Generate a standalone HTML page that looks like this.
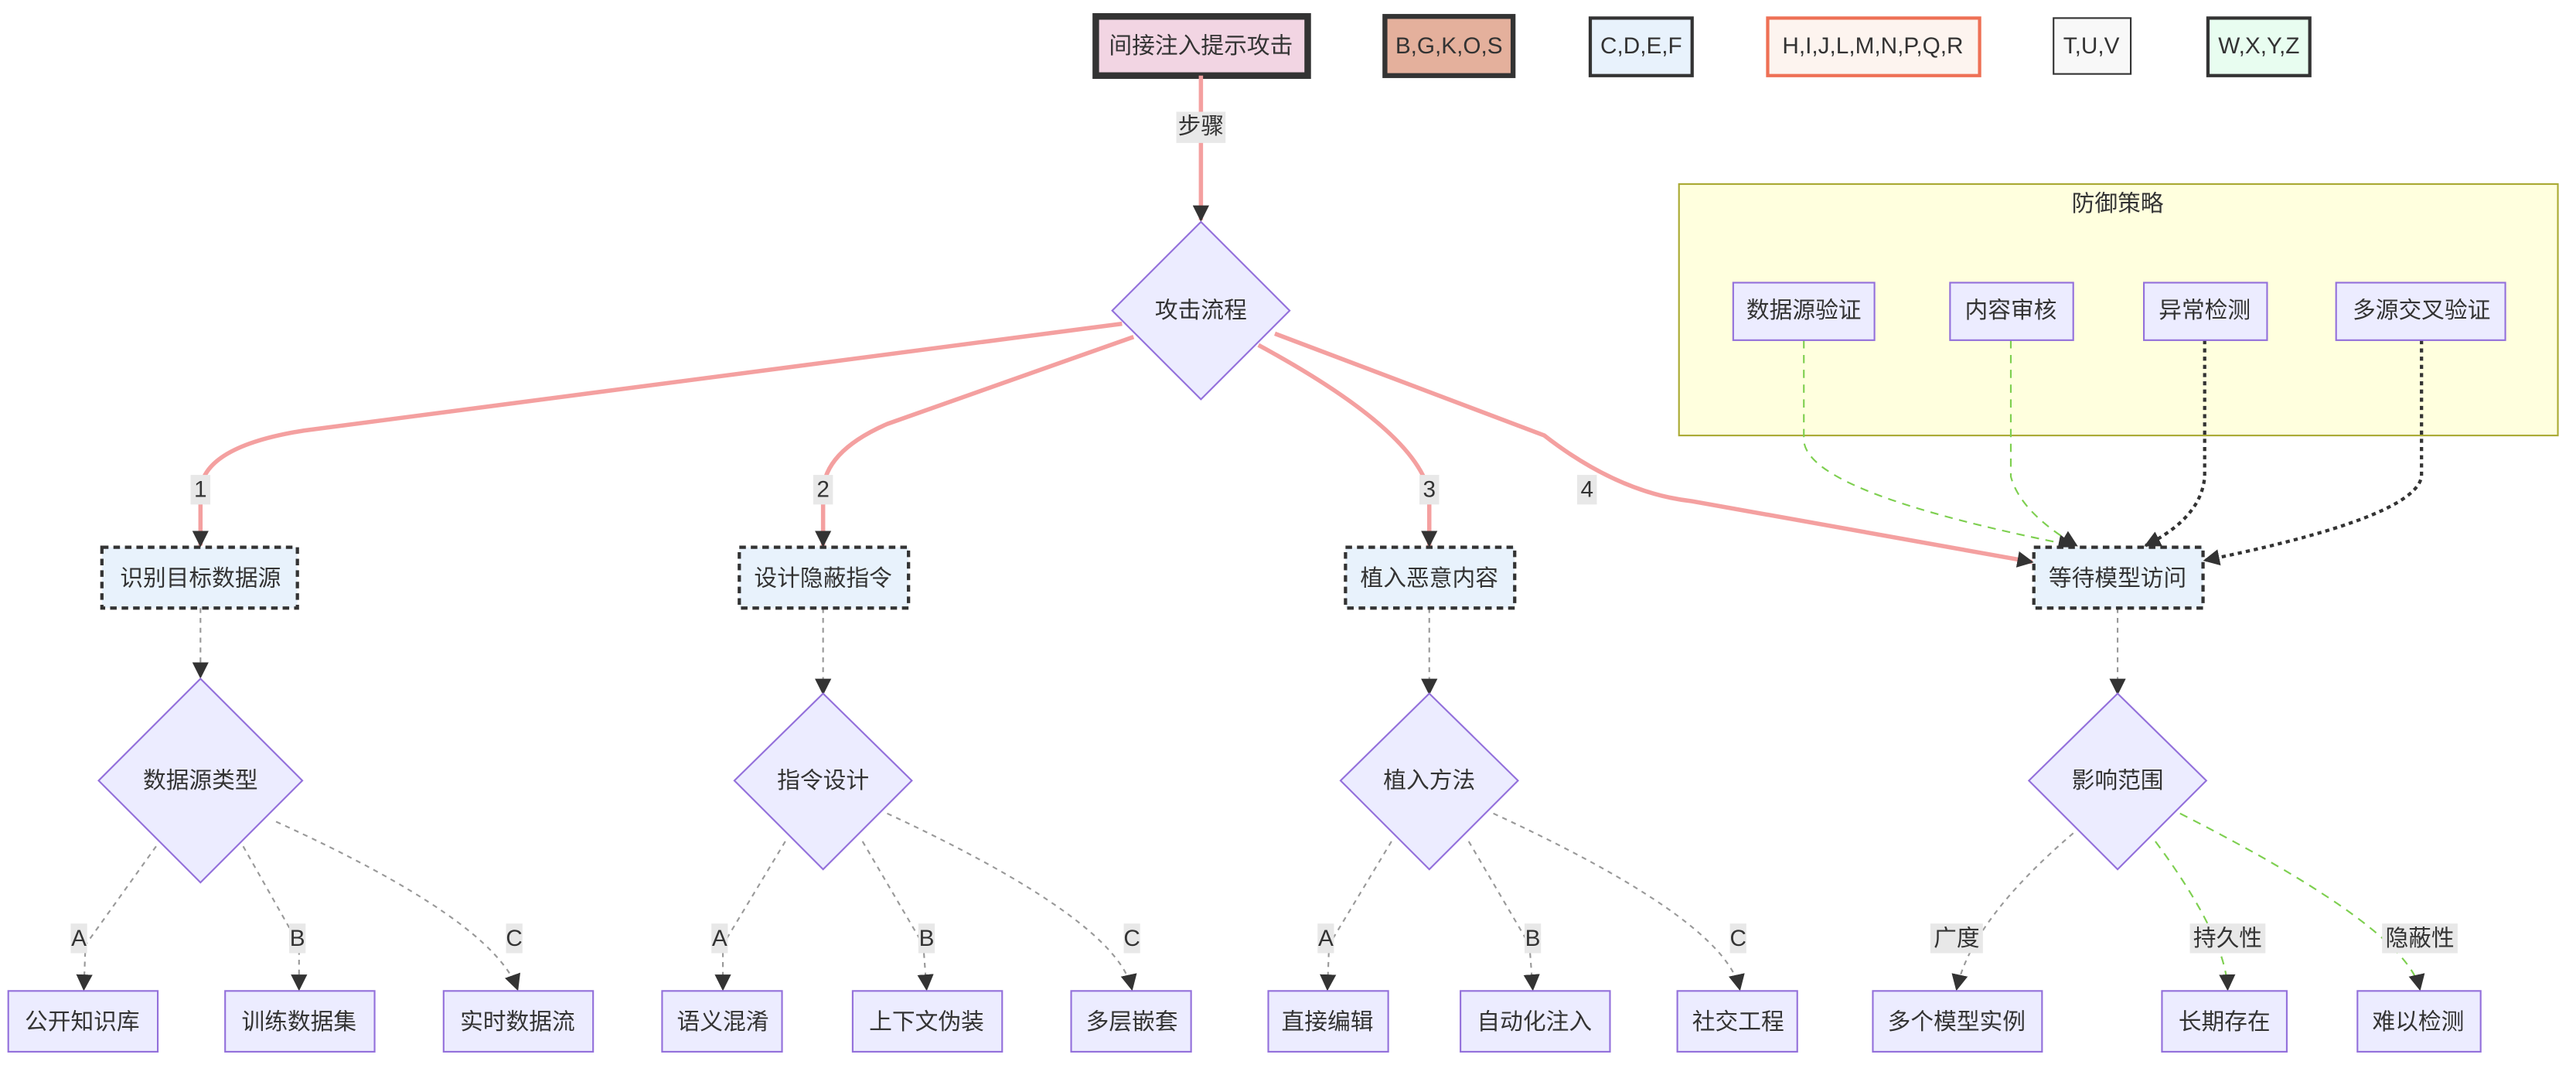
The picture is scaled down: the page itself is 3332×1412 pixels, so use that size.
<!DOCTYPE html>
<html><head><meta charset="utf-8"><style>
html,body{margin:0;padding:0;background:#fff;}
svg{display:block;}
text{font-family:"Liberation Sans","Noto Sans CJK SC",sans-serif;font-size:14px;fill:#333;text-anchor:middle;dominant-baseline:central;}
.n{fill:#ECECFF;stroke:#9370DB;stroke-width:1;}
.d{fill:#e8f2fc;stroke:#333;stroke-width:2;stroke-dasharray:4 3;}
.pk{fill:none;stroke:#f4a0a0;stroke-width:2.6;}
.gd{fill:none;stroke:#999;stroke-width:1;stroke-dasharray:3 3;}
.gr{fill:none;stroke:#7dcf4f;stroke-width:1;stroke-dasharray:5 4;}
.bk{fill:none;stroke:#333;stroke-width:2;stroke-dasharray:2.5 2.5;}
.lb{fill:#e8e8e8;}
</style></head><body>
<svg width="3332" height="1412" viewBox="0 0 1568 664.5" xmlns="http://www.w3.org/2000/svg">
<defs><marker id="a" viewBox="0 0 10 10" refX="9" refY="5" markerWidth="10" markerHeight="10" markerUnits="userSpaceOnUse" orient="auto"><path d="M0,0L10,5L0,10z" fill="#333"/></marker></defs>

<!-- cluster -->
<rect x="1022" y="112" width="535" height="153" fill="#ffffde" stroke="#aaaa33" stroke-width="1"/>
<text x="1289" y="124">防御策略</text>

<!-- legend top -->
<rect x="667" y="10" width="129" height="36" fill="#f2d5e3" stroke="#333" stroke-width="4"/>
<text x="731" y="28">间接注入提示攻击</text>
<rect x="843" y="10" width="78" height="36" fill="#e4b09c" stroke="#333" stroke-width="3"/>
<text x="882" y="28">B,G,K,O,S</text>
<rect x="968" y="11" width="62" height="35" fill="#e8f2fc" stroke="#333" stroke-width="2"/>
<text x="999" y="28">C,D,E,F</text>
<rect x="1076" y="11" width="129" height="35" fill="#fdf4ef" stroke="#ee7055" stroke-width="2"/>
<text x="1140" y="28">H,I,J,L,M,N,P,Q,R</text>
<rect x="1250" y="11" width="47" height="34" fill="#f8f8f8" stroke="#333" stroke-width="1"/>
<text x="1273" y="28">T,U,V</text>
<rect x="1344" y="11" width="62" height="35" fill="#e8fdf0" stroke="#333" stroke-width="2"/>
<text x="1375" y="28">W,X,Y,Z</text>

<!-- edges -->
<path class="pk" d="M731,46 L731,134" marker-end="url(#a)"/>
<rect class="lb" x="716" y="68" width="30" height="19"/><text x="731" y="77">步骤</text>

<path class="pk" d="M683,197 L185,262 Q122,272 122,300 L122,332" marker-end="url(#a)"/>
<path class="pk" d="M690,205 L540,258 Q501,275 501,300 L501,332" marker-end="url(#a)"/>
<path class="pk" d="M766,210 Q862,262 870,300 L870,332" marker-end="url(#a)"/>
<path class="pk" d="M776,203 L940,265 Q985,300 1030,305 L1237,342" marker-end="url(#a)"/>
<rect class="lb" x="116" y="289" width="12" height="18"/><text x="122" y="298">1</text>
<rect class="lb" x="495" y="289" width="12" height="18"/><text x="501" y="298">2</text>
<rect class="lb" x="864" y="289" width="12" height="18"/><text x="870" y="298">3</text>
<rect class="lb" x="960" y="289" width="12" height="18"/><text x="966" y="298">4</text>

<path class="gr" d="M1098,207 L1098,268 Q1100,300 1262,332" marker-end="url(#a)"/>
<path class="gr" d="M1224,207 L1224,290 Q1230,312 1264,332" marker-end="url(#a)"/>
<path class="bk" d="M1342,207 L1342,290 Q1340,315 1306,332" marker-end="url(#a)"/>
<path class="bk" d="M1474,207 L1474,290 Q1470,315 1342,341" marker-end="url(#a)"/>

<path class="gd" d="M122,370 L122,412" marker-end="url(#a)"/>
<path class="gd" d="M501,370 L501,422" marker-end="url(#a)"/>
<path class="gd" d="M870,370 L870,422" marker-end="url(#a)"/>
<path class="gd" d="M1289,370 L1289,422" marker-end="url(#a)"/>

<!-- leaves edges -->
<path class="gd" d="M95,515 L52,575 L51,602" marker-end="url(#a)"/>
<path class="gd" d="M148,515 L182,575 L182,602" marker-end="url(#a)"/>
<path class="gd" d="M168,500 Q300,560 315,602" marker-end="url(#a)"/>
<path class="gd" d="M478,512 L440,575 L440,602" marker-end="url(#a)"/>
<path class="gd" d="M525,512 L562,575 L564,602" marker-end="url(#a)"/>
<path class="gd" d="M540,495 Q680,560 689,602" marker-end="url(#a)"/>
<path class="gd" d="M847,512 L809,575 L808,602" marker-end="url(#a)"/>
<path class="gd" d="M894,512 L931,575 L933,602" marker-end="url(#a)"/>
<path class="gd" d="M909,495 Q1050,560 1059,602" marker-end="url(#a)"/>
<path class="gd" d="M1262,507 Q1200,560 1191,602" marker-end="url(#a)"/>
<path class="gr" d="M1312,512 Q1355,570 1356,602" marker-end="url(#a)"/>
<path class="gr" d="M1327,495 Q1465,565 1473,602" marker-end="url(#a)"/>

<rect class="lb" x="43" y="562" width="10" height="18"/><text x="48" y="571">A</text>
<rect class="lb" x="176" y="562" width="10" height="18"/><text x="181" y="571">B</text>
<rect class="lb" x="308" y="562" width="10" height="18"/><text x="313" y="571">C</text>
<rect class="lb" x="433" y="562" width="10" height="18"/><text x="438" y="571">A</text>
<rect class="lb" x="559" y="562" width="10" height="18"/><text x="564" y="571">B</text>
<rect class="lb" x="684" y="562" width="10" height="18"/><text x="689" y="571">C</text>
<rect class="lb" x="802" y="562" width="10" height="18"/><text x="807" y="571">A</text>
<rect class="lb" x="928" y="562" width="10" height="18"/><text x="933" y="571">B</text>
<rect class="lb" x="1053" y="562" width="10" height="18"/><text x="1058" y="571">C</text>
<rect class="lb" x="1175" y="562" width="32" height="18"/><text x="1191" y="571">广度</text>
<rect class="lb" x="1333" y="562" width="46" height="18"/><text x="1356" y="571">持久性</text>
<rect class="lb" x="1450" y="562" width="46" height="18"/><text x="1473" y="571">隐蔽性</text>

<!-- diamonds -->
<polygon class="n" points="731,135 785,189 731,243 677,189"/><text x="731" y="189">攻击流程</text>
<polygon class="n" points="122,413 184,475 122,537 60,475"/><text x="122" y="475">数据源类型</text>
<polygon class="n" points="501,422 555,475 501,529 447,475"/><text x="501" y="475">指令设计</text>
<polygon class="n" points="870,422 924,475 870,529 816,475"/><text x="870" y="475">植入方法</text>
<polygon class="n" points="1289,422 1343,475 1289,529 1235,475"/><text x="1289" y="475">影响范围</text>

<!-- defense nodes -->
<rect class="n" x="1055" y="172" width="86" height="35"/><text x="1098" y="189">数据源验证</text>
<rect class="n" x="1187" y="172" width="75" height="35"/><text x="1224" y="189">内容审核</text>
<rect class="n" x="1305" y="172" width="75" height="35"/><text x="1342" y="189">异常检测</text>
<rect class="n" x="1422" y="172" width="103" height="35"/><text x="1474" y="189">多源交叉验证</text>

<!-- level2 -->
<rect class="d" x="62" y="333" width="119" height="37"/><text x="122" y="352">识别目标数据源</text>
<rect class="d" x="450" y="333" width="103" height="37"/><text x="501" y="352">设计隐蔽指令</text>
<rect class="d" x="819" y="333" width="103" height="37"/><text x="870" y="352">植入恶意内容</text>
<rect class="d" x="1238" y="333" width="103" height="37"/><text x="1289" y="352">等待模型访问</text>

<!-- leaves -->
<rect class="n" x="5" y="603" width="91" height="37"/><text x="50" y="622">公开知识库</text>
<rect class="n" x="137" y="603" width="91" height="37"/><text x="182" y="622">训练数据集</text>
<rect class="n" x="270" y="603" width="91" height="37"/><text x="315" y="622">实时数据流</text>
<rect class="n" x="403" y="603" width="73" height="37"/><text x="440" y="622">语义混淆</text>
<rect class="n" x="519" y="603" width="91" height="37"/><text x="564" y="622">上下文伪装</text>
<rect class="n" x="652" y="603" width="73" height="37"/><text x="689" y="622">多层嵌套</text>
<rect class="n" x="772" y="603" width="73" height="37"/><text x="808" y="622">直接编辑</text>
<rect class="n" x="889" y="603" width="91" height="37"/><text x="934" y="622">自动化注入</text>
<rect class="n" x="1021" y="603" width="73" height="37"/><text x="1058" y="622">社交工程</text>
<rect class="n" x="1140" y="603" width="103" height="37"/><text x="1191" y="622">多个模型实例</text>
<rect class="n" x="1316" y="603" width="76" height="37"/><text x="1354" y="622">长期存在</text>
<rect class="n" x="1435" y="603" width="75" height="37"/><text x="1472" y="622">难以检测</text>
</svg>
</body></html>
